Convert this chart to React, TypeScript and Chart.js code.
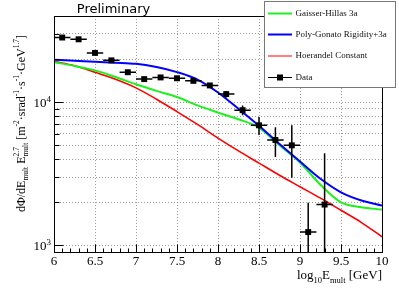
import React, { useEffect, useRef } from 'react';
import { Chart, registerables } from 'chart.js';

Chart.register(...registerables);

// ---- data ----
const dataE = [6.1, 6.3, 6.5, 6.7, 6.9, 7.1, 7.3, 7.5, 7.7, 7.9, 8.1, 8.3, 8.5, 8.7, 8.9, 9.1, 9.3];
const dataFlux = [28300, 27500, 22100, 19600, 16200, 14500, 14900, 14700, 14100, 13100, 11400, 8800, 6900, 5450, 5000, 1240, 1930];
const dataHigh = [28900, 28100, 22600, 20100, 16600, 14900, 15300, 15100, 14500, 13600, 12000, 9500, 7880, 6700, 6920, 1990, 4400];
const dataLow = [27700, 26900, 21600, 19100, 15800, 14100, 14500, 14300, 13700, 12600, 10800, 8100, 5900, 4150, 2965, 400, 400];
const dataXErr = 0.1;

const curveE = [6.0, 6.25, 6.5, 6.75, 7.0, 7.25, 7.5, 7.75, 8.0, 8.25, 8.5, 8.75, 9.0, 9.25, 9.5, 9.75, 10.0];
const gaisserHillas = [19060, 17900, 16680, 15000, 13340, 12000, 10880, 9500, 8470, 7600, 6650, 5000, 3800, 2650, 2000, 1850, 1780];
const polyGonato = [19800, 19500, 19170, 18900, 18560, 17600, 16230, 14400, 11700, 9000, 6850, 5100, 3860, 2920, 2350, 2060, 1900];
const hoerandel = [19300, 18000, 16200, 14450, 12600, 10500, 8600, 7000, 5620, 4570, 3760, 3090, 2570, 2140, 1760, 1445, 1150];

const xMin = 6, xMax = 10, xStep = 0.5, xMinorStep = 0.1;
const yMin = 900, yMax = 40000;
const yGrid = [1000, 2000, 3000, 4000, 5000, 6000, 7000, 8000, 9000, 10000, 20000, 30000, 40000];
const yLabelValues = [1000, 10000];
const yLabelExp = ['3', '4'];

const legendNames = ['Gaisser-Hillas 3a', 'Poly-Gonato Rigidity+3a', 'Hoerandel Constant', 'Data'];
const colGreen = '#1ef01e';
const colBlue = '#0000ff';
const colRed = '#ff0000';

type Seg = { t: string; k?: 'sub' | 'sup' | 'subsup'; t2?: string };

function drawRich(ctx: CanvasRenderingContext2D, segs: Seg[], x: number, y: number, main: number, small: number, family: string, align: 'left' | 'right' | 'center') {
  const widths = segs.map((s) => {
    if (s.k === 'subsup') {
      ctx.font = `${small}px ${family}`;
      return Math.max(ctx.measureText(s.t).width, ctx.measureText(s.t2 || '').width);
    }
    ctx.font = `${s.k ? small : main}px ${family}`;
    return ctx.measureText(s.t).width;
  });
  const total = widths.reduce((a, b) => a + b, 0);
  let cx = align === 'left' ? x : align === 'right' ? x - total : x - total / 2;
  ctx.textAlign = 'left';
  ctx.textBaseline = 'alphabetic';
  segs.forEach((s, i) => {
    const subY = y + main * 0.3;
    const supY = y - main * 0.42;
    if (s.k === 'subsup') {
      ctx.font = `${small}px ${family}`;
      ctx.fillText(s.t, cx, subY);
      ctx.fillText(s.t2 || '', cx, supY);
    } else if (s.k === 'sub') {
      ctx.font = `${small}px ${family}`;
      ctx.fillText(s.t, cx, subY);
    } else if (s.k === 'sup') {
      ctx.font = `${small}px ${family}`;
      ctx.fillText(s.t, cx, supY);
    } else {
      ctx.font = `${main}px ${family}`;
      ctx.fillText(s.t, cx, y);
    }
    cx += widths[i];
  });
}

const SERIF = '"Liberation Serif", "Times New Roman", serif';

const rootPlugin = {
  id: 'rootStyle',
  afterDatasetsDraw(chart: any) {
    const ctx: CanvasRenderingContext2D = chart.ctx;
    const xs = chart.scales.x;
    const ys = chart.scales.y;
    const a = chart.chartArea;
    ctx.save();
    ctx.beginPath();
    ctx.rect(a.left, a.top, a.right - a.left, a.bottom - a.top);
    ctx.clip();
    ctx.strokeStyle = '#000';
    ctx.lineWidth = 1.5;
    dataE.forEach((e, i) => {
      const px = xs.getPixelForValue(e);
      const py = ys.getPixelForValue(dataFlux[i]);
      ctx.beginPath();
      ctx.moveTo(xs.getPixelForValue(e - dataXErr), py);
      ctx.lineTo(xs.getPixelForValue(e + dataXErr), py);
      ctx.moveTo(px, ys.getPixelForValue(dataHigh[i]));
      ctx.lineTo(px, ys.getPixelForValue(dataLow[i]));
      ctx.stroke();
    });
    ctx.restore();
  },
  afterDraw(chart: any) {
    const ctx: CanvasRenderingContext2D = chart.ctx;
    const xs = chart.scales.x;
    const ys = chart.scales.y;
    const a = chart.chartArea;
    const L = Math.round(a.left) + 0.5, R = Math.round(a.right) + 0.5;
    const T = Math.round(a.top) + 0.5, B = Math.round(a.bottom) + 0.5;
    ctx.save();
    // frame
    ctx.strokeStyle = '#000';
    ctx.lineWidth = 1;
    ctx.strokeRect(L, T, R - L, B - T);
    // x ticks (inside)
    ctx.beginPath();
    for (let v = xMin; v <= xMax + 1e-9; v += xMinorStep) {
      const major = Math.abs(v / xStep - Math.round(v / xStep)) < 1e-6;
      const px = Math.round(xs.getPixelForValue(v)) + 0.5;
      ctx.moveTo(px, B);
      ctx.lineTo(px, B - (major ? 8 : 4));
    }
    // y ticks (inside)
    yGrid.forEach((v) => {
      const py = Math.round(ys.getPixelForValue(v)) + 0.5;
      const major = yLabelValues.includes(v);
      ctx.moveTo(L, py);
      ctx.lineTo(L + (major ? 9 : 5), py);
    });
    ctx.stroke();
    // y labels
    ctx.fillStyle = '#000';
    yLabelValues.forEach((v, i) => {
      const py = ys.getPixelForValue(v);
      drawRich(ctx, [{ t: '10' }, { t: yLabelExp[i], k: 'sup' }], 51, py + 5, 13, 9, SERIF, 'right');
    });
    // y title
    ctx.save();
    ctx.translate(24.5, 123.5);
    ctx.rotate(-Math.PI / 2);
    drawRich(ctx, [
      { t: 'd\u03A6/dE' }, { t: 'mult', k: 'sub' }, { t: ' E' }, { t: 'mult', k: 'subsup', t2: '2.7' },
      { t: ' [m' }, { t: '-2', k: 'sup' }, { t: '\u00B7srad' }, { t: '-1', k: 'sup' },
      { t: '\u00B7s' }, { t: '-1', k: 'sup' }, { t: '\u00B7GeV' }, { t: '1.7', k: 'sup' }, { t: ']' },
    ], 0, 0, 12, 7.5, SERIF, 'center');
    ctx.restore();
    // x title
    drawRich(ctx, [{ t: 'log' }, { t: '10', k: 'sub' }, { t: 'E' }, { t: 'mult', k: 'sub' }, { t: ' [GeV]' }], 382, 279, 13, 8.5, SERIF, 'right');
    // Preliminary
    ctx.fillStyle = '#000';
    ctx.font = '13px "DejaVu Sans", sans-serif';
    ctx.textAlign = 'center';
    ctx.textBaseline = 'alphabetic';
    ctx.fillText('Preliminary', 113.5, 12.7);
    // legend
    const lx = 264.5, ly = 1.5, lw = 131, lh = 86;
    ctx.fillStyle = '#fff';
    ctx.fillRect(lx, ly, lw, lh);
    ctx.strokeStyle = '#777';
    ctx.lineWidth = 1;
    ctx.strokeRect(lx, ly, lw, lh);
    const rows = [13.5, 34.5, 56, 77.5];
    const cols = [colGreen, colBlue, colRed, '#000'];
    const lws = [2, 2, 1, 1];
    rows.forEach((ry, i) => {
      ctx.strokeStyle = cols[i];
      ctx.lineWidth = lws[i];
      ctx.beginPath();
      ctx.moveTo(268, ry);
      ctx.lineTo(292, ry);
      ctx.stroke();
      if (i === 3) {
        ctx.fillStyle = '#000';
        ctx.fillRect(277, ry - 3, 6, 6);
      }
      ctx.fillStyle = '#111';
      ctx.font = `9px ${SERIF}`;
      ctx.textAlign = 'left';
      ctx.textBaseline = 'middle';
      ctx.fillText(legendNames[i], 295.5, ry);
    });
    ctx.restore();
  },
};

export default function App() {
  const ref = useRef<HTMLCanvasElement | null>(null);
  useEffect(() => {
    if (!ref.current) return;
    const xy = (xsArr: number[], ysArr: number[]) => xsArr.map((x, i) => ({ x, y: ysArr[i] }));
    const chart = new Chart(ref.current, {
      type: 'scatter',
      data: {
        datasets: [
          {
            label: legendNames[3],
            data: xy(dataE, dataFlux),
            pointStyle: 'rect',
            pointRadius: 4.2,
            backgroundColor: '#000',
            borderColor: '#000',
            borderWidth: 0,
            showLine: false,
          },
          {
            label: legendNames[1],
            data: xy(curveE, polyGonato),
            showLine: true,
            pointRadius: 0,
            borderColor: colBlue,
            borderWidth: 2,
            cubicInterpolationMode: 'monotone',
          },
          {
            label: legendNames[0],
            data: xy(curveE, gaisserHillas),
            showLine: true,
            pointRadius: 0,
            borderColor: colGreen,
            borderWidth: 2,
            cubicInterpolationMode: 'monotone',
          },
          {
            label: legendNames[2],
            data: xy(curveE, hoerandel),
            showLine: true,
            pointRadius: 0,
            borderColor: colRed,
            borderWidth: 1.6,
            cubicInterpolationMode: 'monotone',
          },
        ],
      },
      options: {
        responsive: false,
        animation: false,
        layout: { padding: { top: 16, right: 17, left: 0, bottom: 0 } },
        plugins: { legend: { display: false }, tooltip: { enabled: false }, title: { display: false } },
        scales: {
          x: {
            type: 'linear',
            min: xMin,
            max: xMax,
            afterFit: (s: any) => { s.height = 38; },
            ticks: {
              stepSize: xStep,
              autoSkip: false,
              maxRotation: 0,
              padding: 2,
              color: '#000',
              font: { family: SERIF, size: 13 },
              callback: (v: any) => String(Math.round(Number(v) * 10) / 10),
            },
            grid: { color: 'rgba(90,90,90,0.6)', lineWidth: 1, drawTicks: false },
            border: { display: false, dash: [1, 2] },
          },
          y: {
            type: 'logarithmic',
            min: yMin,
            max: yMax,
            bounds: 'data',
            afterFit: (s: any) => { s.width = 54; },
            afterBuildTicks: (s: any) => { s.ticks = yGrid.map((v) => ({ value: v })); },
            ticks: { display: false },
            grid: { color: 'rgba(90,90,90,0.6)', lineWidth: 1, drawTicks: false },
            border: { display: false, dash: [1, 2] },
          },
        },
      } as any,
      plugins: [rootPlugin],
    });
    return () => chart.destroy();
  }, []);
  return (
    <div style={{ position: 'absolute', left: 0, top: 0, width: 399, height: 290, background: '#fff' }}>
      <canvas ref={ref} width={399} height={290} style={{ display: 'block' }} />
    </div>
  );
}
